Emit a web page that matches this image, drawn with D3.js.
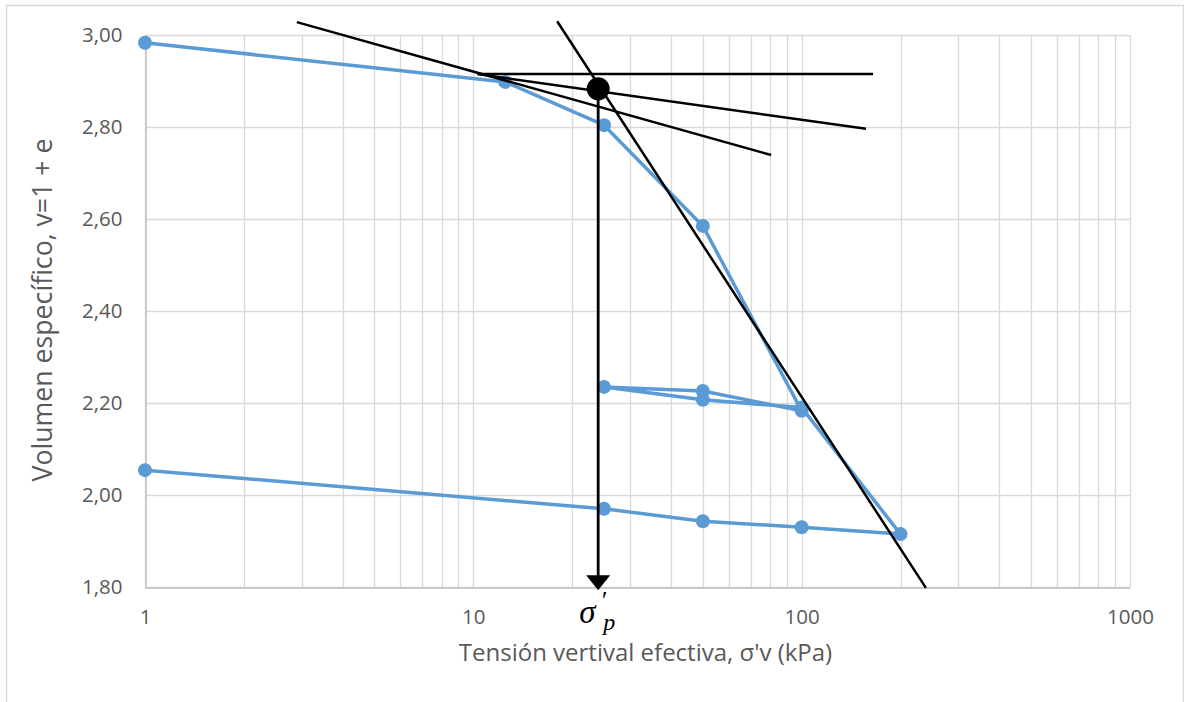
<!DOCTYPE html>
<html>
<head>
<meta charset="utf-8">
<script src="https://cdn.jsdelivr.net/npm/d3@7"></script>
<style>
  html, body { margin: 0; padding: 0; background: #fff; }
  svg { display: block; }
</style>
</head>
<body>
<svg id="chart" width="1184" height="702"></svg>
<script>
// ---- data ----
const stressKPa = [1, 12.5, 25, 50, 100, 50, 25, 50, 100, 200, 100, 50, 25, 1];
const specificVolume = [2.983, 2.898, 2.804, 2.585, 2.183, 2.226, 2.235, 2.207, 2.190, 1.915, 1.930, 1.943, 1.970, 2.054];
const xTickValues = [1, 10, 100, 1000];
const yTickValues = [1.8, 2.0, 2.2, 2.4, 2.6, 2.8, 3.0];
// Casagrande construction lines: [x1, v1, x2, v2]
const constructionLines = [
  [2.90, 3.028, 80.7, 2.739],   // tangent at max curvature
  [10.3, 2.915, 165, 2.915],    // horizontal
  [10.3, 2.915, 157, 2.796],    // bisector
  [18.0, 3.030, 239, 1.798]     // virgin compression line
];
const preconsolidation = { x: 24, v: 2.883, arrowTo: 1.793 };
const xTitle = "Tensión vertival efectiva, σ'v (kPa)";
const yTitle = "Volumen específico, v=1 + e";

// ---- layout ----
const svg = d3.select("#chart");
const pL = 145, pR = 1130, pT = 35, pB = 587;
const x = d3.scaleLog().domain([1, 1000]).range([pL, pR]);
const y = d3.scaleLinear().domain([1.8, 3.0]).range([pB, pT]);
const fmt = d3.formatLocale({decimal: ",", thousands: ".", grouping: [3], currency: ["", "€"]}).format(".2f");
const FONT = "'Open Sans', sans-serif";
const TXT = "#595959";

// outer chart border
svg.append("rect").attr("x", 6.5).attr("y", 5.5).attr("width", 1177).attr("height", 700)
  .attr("fill", "none").attr("stroke", "#d9d9d9").attr("stroke-width", 1.5);

// grid
const minorX = [];
for (let d = 1; d < 1000; d *= 10) for (let k = 1; k <= 9; k++) minorX.push(d * k);
minorX.push(1000);
svg.append("g").selectAll("line").data(minorX).join("line")
  .attr("x1", d => Math.round(x(d)) + 0.5).attr("x2", d => Math.round(x(d)) + 0.5)
  .attr("y1", pT).attr("y2", pB)
  .attr("stroke", "#d9d9d9").attr("stroke-width", 1.3);
svg.append("g").selectAll("line").data(yTickValues).join("line")
  .attr("x1", pL).attr("x2", pR)
  .attr("y1", d => Math.round(y(d)) + 0.5).attr("y2", d => Math.round(y(d)) + 0.5)
  .attr("stroke", "#d9d9d9").attr("stroke-width", 1.3);

// axes
const yAxis = d3.axisLeft(y).tickValues(yTickValues).tickFormat(fmt).tickSize(0).tickPadding(23);
const gy = svg.append("g").attr("transform", `translate(${pL + 0.5},0)`).call(yAxis);
gy.select(".domain").attr("stroke", "#bfbfbf").attr("stroke-width", 1.5);
gy.selectAll("text").attr("font-family", FONT).attr("font-size", 20.5).attr("fill", TXT);

const xAxis = d3.axisBottom(x).tickValues(xTickValues).tickFormat(d3.format("d")).tickSize(0).tickPadding(22);
const gx = svg.append("g").attr("transform", `translate(0,${pB + 0.5})`).call(xAxis);
gx.select(".domain").attr("stroke", "#bfbfbf").attr("stroke-width", 1.5);
gx.selectAll("text").attr("font-family", FONT).attr("font-size", 20.5).attr("fill", TXT);

// axis titles
svg.append("text").attr("x", 645.5).attr("y", 661).attr("text-anchor", "middle")
  .attr("font-family", FONT).attr("font-size", 24).attr("fill", TXT).text(xTitle);
svg.append("text").attr("transform", `translate(52,${(pT + pB) / 2 - 1}) rotate(-90)`).attr("text-anchor", "middle")
  .attr("font-family", FONT).attr("font-size", 26.7).attr("fill", TXT).text(yTitle);

// series
const pts = stressKPa.map((s, i) => [s, specificVolume[i]]);
svg.append("path").datum(pts)
  .attr("d", d3.line().x(d => x(d[0])).y(d => y(d[1])))
  .attr("fill", "none").attr("stroke", "#5b9bd5").attr("stroke-width", 3.5).attr("stroke-linejoin", "round");
svg.append("g").selectAll("circle").data(pts).join("circle")
  .attr("cx", d => x(d[0])).attr("cy", d => y(d[1])).attr("r", 7).attr("fill", "#5b9bd5");

// construction lines
svg.append("g").selectAll("line").data(constructionLines).join("line")
  .attr("x1", d => x(d[0])).attr("y1", d => y(d[1]))
  .attr("x2", d => x(d[2])).attr("y2", d => y(d[3]))
  .attr("stroke", "#000").attr("stroke-width", 2.5);

// preconsolidation arrow
const px = x(preconsolidation.x);
const tipY = y(preconsolidation.arrowTo);
svg.append("line").attr("x1", px).attr("x2", px).attr("y1", y(preconsolidation.v)).attr("y2", tipY - 12)
  .attr("stroke", "#000").attr("stroke-width", 2.8);
svg.append("path").attr("d", `M${px - 12},${tipY - 15} L${px + 12},${tipY - 15} L${px},${tipY} Z`).attr("fill", "#000");
svg.append("circle").attr("cx", px).attr("cy", y(preconsolidation.v)).attr("r", 11.5).attr("fill", "#000");

// sigma'_p label
const SERIF = "'Liberation Serif', 'DejaVu Serif', serif";
const lab = svg.append("g").attr("font-family", SERIF).attr("font-style", "italic").attr("fill", "#000");
lab.append("text").attr("x", px - 19).attr("y", 623).attr("font-size", 33).text("σ");
lab.append("text").attr("x", px + 2).attr("y", 609).attr("font-size", 26).text("′");
lab.append("text").attr("x", px + 5).attr("y", 630).attr("font-size", 24).text("p");
</script>
</body>
</html>
